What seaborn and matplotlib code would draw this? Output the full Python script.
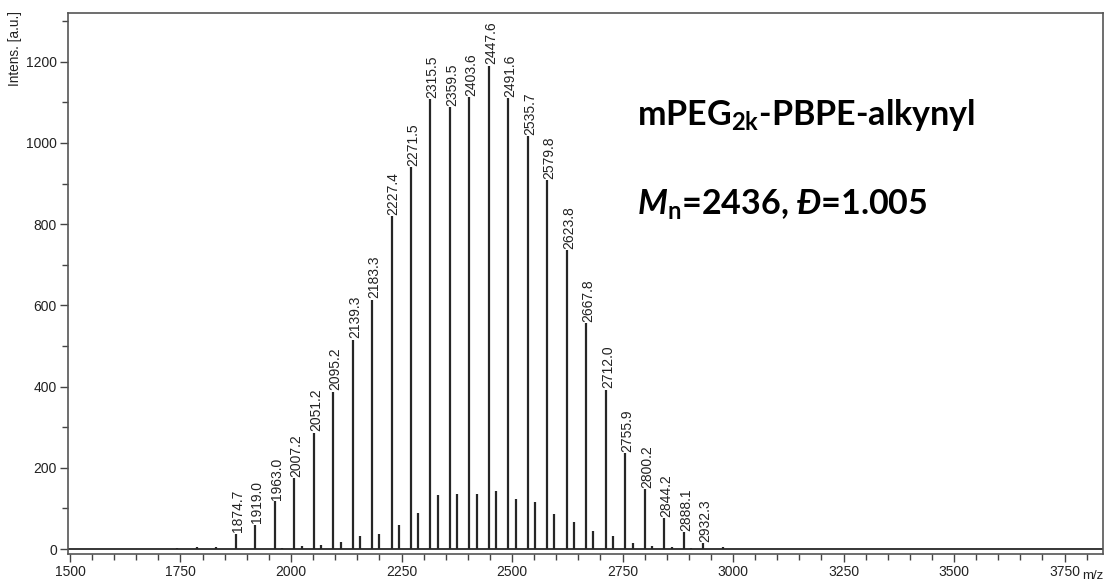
import numpy as np
import pandas as pd
import matplotlib
matplotlib.use('Agg')
import matplotlib.pyplot as plt
import seaborn as sns
from matplotlib.ticker import MultipleLocator

# ---- data ----
labeled_mz = [1874.7, 1919.0, 1963.0, 2007.2, 2051.2, 2095.2, 2139.3, 2183.3,
              2227.4, 2271.5, 2315.5, 2359.5, 2403.6, 2447.6, 2491.6, 2535.7,
              2579.8, 2623.8, 2667.8, 2712.0, 2755.9, 2800.2, 2844.2, 2888.1,
              2932.3]
labeled_int = [38, 60, 118, 175, 286, 387, 515, 614,
               820, 941, 1108, 1088, 1113, 1190, 1110, 1017,
               909, 736, 556, 392, 236, 148, 76, 42,
               15]
weak_mz = [1742.6, 1786.6, 1830.7, 2976.4]
weak_int = [3, 5, 5, 4]
minor_mz = [1980, 2024, 2068, 2112, 2156, 2200, 2244, 2288, 2332, 2376, 2420,
            2464, 2508, 2552, 2596, 2640, 2684, 2728, 2773, 2817, 2861, 2905]
minor_int = [3, 8, 10, 17, 32, 38, 59, 88, 133, 135, 135,
             143, 123, 116, 86, 66, 44, 32, 15, 7, 6, 3]

title_line1 = r"mPEG$_\mathbf{2k}$-PBPE-alkynyl"
title_line2 = r"$\mathbfit{M}_\mathbf{n}$=2436, $\mathbfit{Đ}$=1.005"

sns.set_theme(style="ticks")
plt.rcParams['font.family'] = ['Liberation Sans', 'DejaVu Sans']
plt.rcParams['mathtext.fontset'] = 'custom'
plt.rcParams['mathtext.rm'] = 'Lato:bold'
plt.rcParams['mathtext.bf'] = 'Lato:bold'
plt.rcParams['mathtext.it'] = 'Lato:italic:bold'
plt.rcParams['mathtext.bfit'] = 'Lato:italic:bold'

df = pd.DataFrame({
    'mz': labeled_mz + weak_mz + minor_mz,
    'intensity': labeled_int + weak_int + minor_int,
})

fig = plt.figure(figsize=(11.08, 5.86), dpi=100)
ax = fig.add_axes([68/1108, 1-554/586, (1103-68)/1108, (554-13)/586])

line_col = '#262626'
ax.axhline(0, color=line_col, lw=1.3, zorder=2)
ax.vlines(df['mz'], 0, df['intensity'], color=line_col, lw=1.6, zorder=3)

for mz, h in zip(labeled_mz, labeled_int):
    ax.annotate(f"{mz:.1f}", xy=(mz, h), xytext=(1.6, 1.0),
                textcoords='offset points', rotation=90, ha='center',
                va='bottom', fontsize=10, color='#222222')

ax.set_xlim(1495.5, 3837)
ax.set_ylim(-12.3, 1320)
ax.xaxis.set_major_locator(MultipleLocator(250))
ax.xaxis.set_minor_locator(MultipleLocator(50))
ax.yaxis.set_major_locator(MultipleLocator(200))
ax.yaxis.set_minor_locator(MultipleLocator(100))
ax.tick_params(which='major', direction='out', length=6, width=1.0,
               color='#444444', labelsize=10, labelcolor='#222222', pad=2)
ax.tick_params(which='minor', direction='out', length=4, width=1.0,
               color='#444444')
for s in ax.spines.values():
    s.set_color('#555555')
    s.set_linewidth(1.2)

fig.text(15/1108, 1-11/586, 'Intens. [a.u.]', rotation=90, ha='center',
         va='top', fontsize=9.8, color='#222222')
fig.text(1093/1108, 1-576/586, 'm/z', ha='center', va='center',
         fontsize=9.5, color='#222222')

fig.text(637/1108, 1-125/586, title_line1, ha='left', va='baseline',
         fontsize=24.5, fontweight='bold', family='Lato', color='black')
fig.text(637/1108, 1-215/586, title_line2, ha='left', va='baseline',
         fontsize=24.5, fontweight='bold', family='Lato', color='black')

fig.savefig('out.png', dpi=100)
